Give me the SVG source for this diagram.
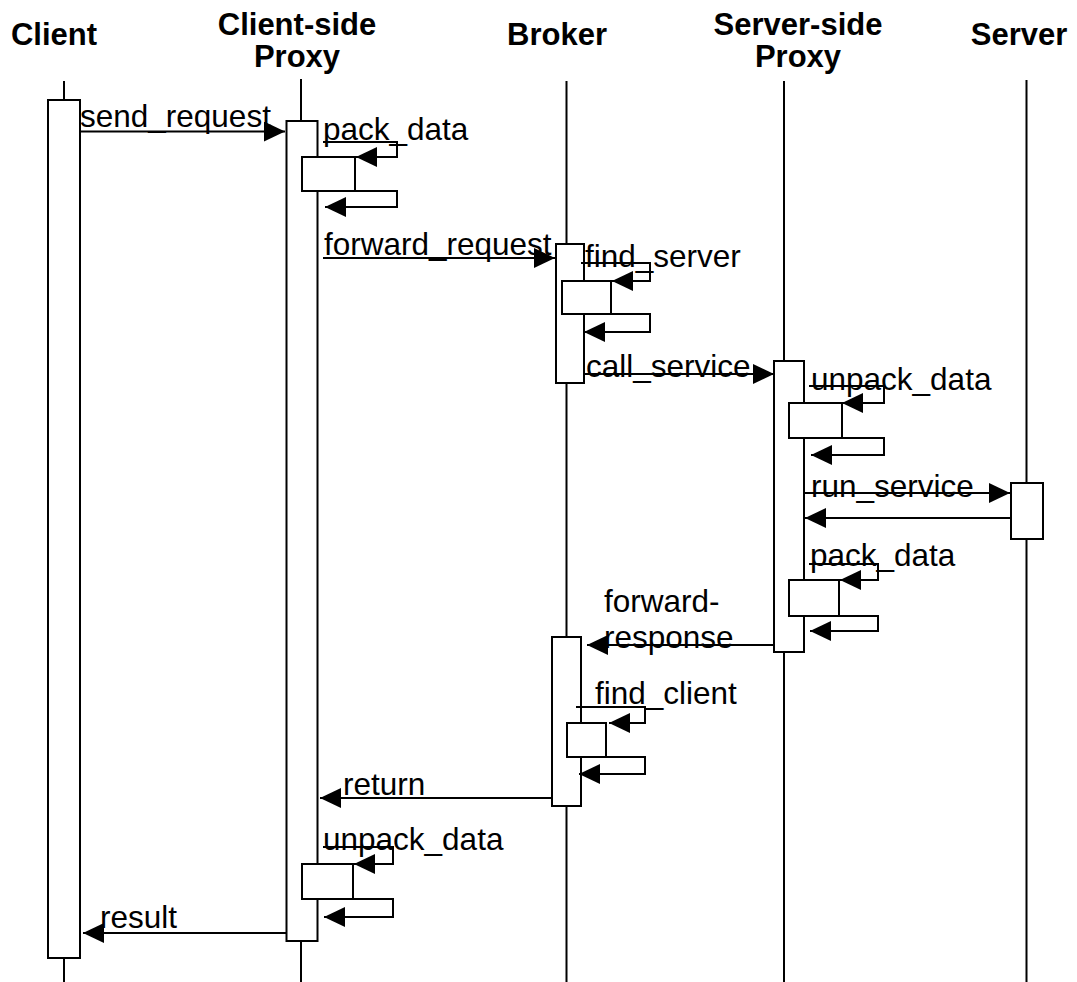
<svg xmlns="http://www.w3.org/2000/svg" width="1077" height="982" viewBox="0 0 1077 982">
<style>
.hdr{font-family:"Liberation Sans",Arial,sans-serif;font-weight:bold;font-size:31px;fill:#000;text-anchor:middle}
.lbl{font-family:"Liberation Sans",Arial,sans-serif;font-size:31.5px;fill:#000}
.life{stroke:#000;stroke-width:2;fill:none}
.act{stroke:#000;stroke-width:2;fill:#fff}
.msg{stroke:#000;stroke-width:2;fill:none;marker-end:url(#ah)}
</style>
<defs>
<marker id="ah" markerUnits="userSpaceOnUse" markerWidth="22" markerHeight="20" refX="21" refY="10" orient="auto">
<path d="M0,0 L21,10 L0,20 z" fill="#000"/>
</marker>
</defs>
<rect width="1077" height="982" fill="#fff"/>
<g id="client">
<text class="hdr" x="54" y="45">Client</text>
<line class="life" x1="64" y1="81" x2="64" y2="982"/>
<rect class="act" x="48" y="100" width="32" height="858"/>
</g>
<g id="client-side-proxy">
<text class="hdr" x="297" y="35">Client-side</text>
<text class="hdr" x="297" y="67">Proxy</text>
<line class="life" x1="301" y1="79" x2="301" y2="982"/>
<rect class="act" x="286.5" y="121" width="31" height="820"/>
<rect class="act" x="302" y="157" width="53" height="34"/>
<rect class="act" x="302" y="864" width="51" height="35"/>
</g>
<g id="broker">
<text class="hdr" x="557" y="45">Broker</text>
<line class="life" x1="566.5" y1="81" x2="566.5" y2="982"/>
<rect class="act" x="556" y="244" width="28" height="139"/>
<rect class="act" x="562" y="281" width="49" height="33"/>
<rect class="act" x="552" y="637" width="29" height="169"/>
<rect class="act" x="567" y="723" width="39" height="34"/>
</g>
<g id="server-side-proxy">
<text class="hdr" x="798" y="35">Server-side</text>
<text class="hdr" x="798" y="67">Proxy</text>
<line class="life" x1="784" y1="81" x2="784" y2="982"/>
<rect class="act" x="774" y="361" width="30" height="291"/>
<rect class="act" x="789" y="403" width="53" height="35"/>
<rect class="act" x="789" y="580" width="50" height="36"/>
</g>
<g id="server">
<text class="hdr" x="1019" y="45">Server</text>
<line class="life" x1="1026.5" y1="80" x2="1026.5" y2="982"/>
<rect class="act" x="1011" y="483" width="32" height="56"/>
</g>
<g id="connectors">
<path class="msg" d="M80,131.5 H285"/>
<path class="msg" d="M323,142 H397 V157 H356"/>
<path class="msg" d="M355,191 H397 V207 H325"/>
<path class="msg" d="M323,258 H555"/>
<path class="msg" d="M581,263 H650 V281 H612"/>
<path class="msg" d="M611,314 H650 V332 H584"/>
<path class="msg" d="M584,374 H774"/>
<path class="msg" d="M809,386 H884 V403 H842"/>
<path class="msg" d="M842,438 H884 V455 H811"/>
<path class="msg" d="M805,493 H1010"/>
<path class="msg" d="M1011,518 H805"/>
<path class="msg" d="M809,564 H878 V580 H840"/>
<path class="msg" d="M839,616 H878 V631 H810"/>
<path class="msg" d="M774,645 H587"/>
<path class="msg" d="M576,707 H645 V723 H609"/>
<path class="msg" d="M606,757 H645 V774 H579"/>
<path class="msg" d="M552,798 H320"/>
<path class="msg" d="M323,847 H393 V864 H354"/>
<path class="msg" d="M353,899 H393 V917 H324"/>
<path class="msg" d="M286,933 H83"/>
</g>
<g id="labels">
<text class="lbl" x="80" y="127">send_request</text>
<text class="lbl" x="323" y="140">pack_data</text>
<text class="lbl" x="324" y="255">forward_request</text>
<text class="lbl" x="585" y="267">find_server</text>
<text class="lbl" x="586" y="377">call_service</text>
<text class="lbl" x="811" y="390">unpack_data</text>
<text class="lbl" x="811" y="497">run_service</text>
<text class="lbl" x="810" y="566">pack_data</text>
<text class="lbl" x="604" y="612">forward-</text>
<text class="lbl" x="604" y="648">response</text>
<text class="lbl" x="595" y="704">find_client</text>
<text class="lbl" x="343" y="795">return</text>
<text class="lbl" x="323" y="850">unpack_data</text>
<text class="lbl" x="100" y="928">result</text>
</g>
</svg>
